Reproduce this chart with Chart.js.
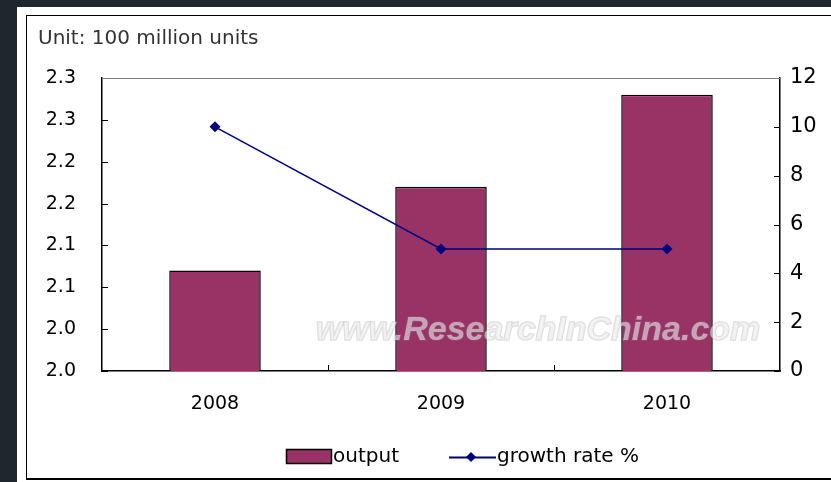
<!DOCTYPE html>
<html>
<head>
<meta charset="utf-8">
<script src="https://cdn.jsdelivr.net/npm/chart.js@4.4.1/dist/chart.umd.min.js"></script>
<style>
  html, body { margin: 0; padding: 0; width: 831px; height: 482px; overflow: hidden; background: #1d272d; }
  #panel { position: absolute; left: 17px; top: 7px; width: 830px; height: 480px; background: #fff; }
  #frame { position: absolute; left: 26px; top: 15px; width: 820px; height: 465px; border: 1px solid #000; border-bottom-width: 2px; box-sizing: border-box; }
  #chart { position: absolute; left: 0; top: 0; }
</style>
</head>
<body>
<div id="panel"></div>
<div id="frame"></div>
<canvas id="chart" width="831" height="482"></canvas>
<script>
// data
const years = ['2008', '2009', '2010'];
const output = [2.07, 2.17, 2.28];        // 100 million units
const growthRate = [10, 5, 5];            // %
const leftTickLabels = ['2.0', '2.0', '2.1', '2.1', '2.2', '2.2', '2.3', '2.3'];

const PLUM = '#993366';
const NAVY = '#000080';
const FONT = '"DejaVu Sans", Verdana, sans-serif';

// inward tick marks, top frame line, unit note, watermark and legend
const decor = {
  id: 'decor',
  afterDatasetsDraw(chart) {
    const ctx = chart.ctx;
    ctx.save();
    ctx.font = 'italic bold 34px "Liberation Sans", Arial, sans-serif';
    ctx.textAlign = 'center';
    ctx.textBaseline = 'middle';
    ctx.lineWidth = 1.5;
    ctx.strokeStyle = 'rgba(140,140,140,0.3)';
    ctx.strokeText('www.ResearchInChina.com', 538, 331);
    ctx.fillStyle = 'rgba(235,235,235,0.6)';
    ctx.fillText('www.ResearchInChina.com', 538, 331);
    ctx.restore();
  },
  afterDraw(chart) {
    const ctx = chart.ctx;
    const a = chart.chartArea;
    const {x, y, y1} = chart.scales;
    ctx.save();
    ctx.lineWidth = 1;
    ctx.strokeStyle = '#000';
    ctx.beginPath();
    y.ticks.forEach(t => {
      const py = Math.round(y.getPixelForValue(t.value)) + 0.5;
      ctx.moveTo(a.left, py); ctx.lineTo(a.left + 6, py);
    });
    y1.ticks.forEach(t => {
      const py = Math.round(y1.getPixelForValue(t.value)) + 0.5;
      ctx.moveTo(a.right - 6, py); ctx.lineTo(a.right, py);
    });
    const cw = x.getPixelForValue(1) - x.getPixelForValue(0);
    for (let i = 1; i < years.length; i++) {
      const px = Math.round(x.getPixelForValue(i) - cw / 2) + 0.5;
      ctx.moveTo(px, a.bottom); ctx.lineTo(px, a.bottom - 6);
    }
    ctx.stroke();

    ctx.strokeStyle = '#808080';
    ctx.beginPath();
    ctx.moveTo(a.left, a.top + 0.5); ctx.lineTo(a.right, a.top + 0.5);
    ctx.stroke();

    // unit note
    ctx.fillStyle = '#333';
    ctx.font = '20px ' + FONT;
    ctx.textBaseline = 'middle';
    ctx.textAlign = 'left';
    ctx.fillText('Unit: 100 million units', 38, 39);

    // legend
    const ly = 457;
    ctx.fillStyle = PLUM;
    ctx.fillRect(286, 449, 45, 14);
    ctx.strokeStyle = '#000';
    ctx.lineWidth = 1.5;
    ctx.strokeRect(286.5, 449.5, 45, 14);
    ctx.fillStyle = '#000';
    ctx.font = '20px ' + FONT;
    ctx.fillText(chart.data.datasets[1].label, 333, ly);

    ctx.strokeStyle = NAVY;
    ctx.lineWidth = 2;
    ctx.beginPath();
    ctx.moveTo(449, ly + 0.5); ctx.lineTo(496, ly + 0.5);
    ctx.stroke();
    ctx.fillStyle = NAVY;
    ctx.beginPath();
    ctx.moveTo(471, ly - 5); ctx.lineTo(476, ly); ctx.lineTo(471, ly + 5); ctx.lineTo(466, ly);
    ctx.closePath();
    ctx.fill();
    ctx.fillStyle = '#000';
    ctx.fillText(chart.data.datasets[0].label, 497, ly);
    ctx.restore();
  }
};

new Chart(document.getElementById('chart'), {
  data: {
    labels: years,
    datasets: [
      {
        type: 'line', label: 'growth rate %', data: growthRate, yAxisID: 'y1', order: 1,
        borderColor: NAVY, borderWidth: 1.5, backgroundColor: NAVY,
        pointStyle: 'rectRot', pointRadius: 5.5, pointBorderWidth: 0, tension: 0
      },
      {
        type: 'bar', label: 'output', data: output, yAxisID: 'y', order: 2,
        backgroundColor: PLUM, borderColor: '#000', borderWidth: 1.5, borderSkipped: 'bottom',
        barPercentage: 0.405, categoryPercentage: 1
      }
    ]
  },
  options: {
    responsive: false,
    animation: false,
    layout: {padding: {top: 78, left: 0, right: 0, bottom: 0}},
    plugins: {legend: {display: false}, tooltip: {enabled: false}},
    scales: {
      x: {
        grid: {display: false, drawTicks: false},
        border: {color: '#000', width: 1.5},
        ticks: {color: '#000', padding: 22, font: {family: FONT, size: 19}},
        afterFit: s => { s.height = 111; }
      },
      y: {
        position: 'left', min: 1.95, max: 2.3,
        grid: {display: false, drawTicks: false},
        border: {color: '#000', width: 1.5},
        ticks: {stepSize: 0.05, color: '#000', padding: 26, font: {family: FONT, size: 19},
          callback: (v, i) => leftTickLabels[i]},
        afterFit: s => { s.width = 102; }
      },
      y1: {
        position: 'right', min: 0, max: 12,
        grid: {display: false, drawTicks: false},
        border: {color: '#000', width: 1.5},
        ticks: {stepSize: 2, color: '#000', padding: 10, font: {family: FONT, size: 21}},
        afterFit: s => { s.width = 51; }
      }
    }
  },
  plugins: [decor]
});
</script>
</body>
</html>
